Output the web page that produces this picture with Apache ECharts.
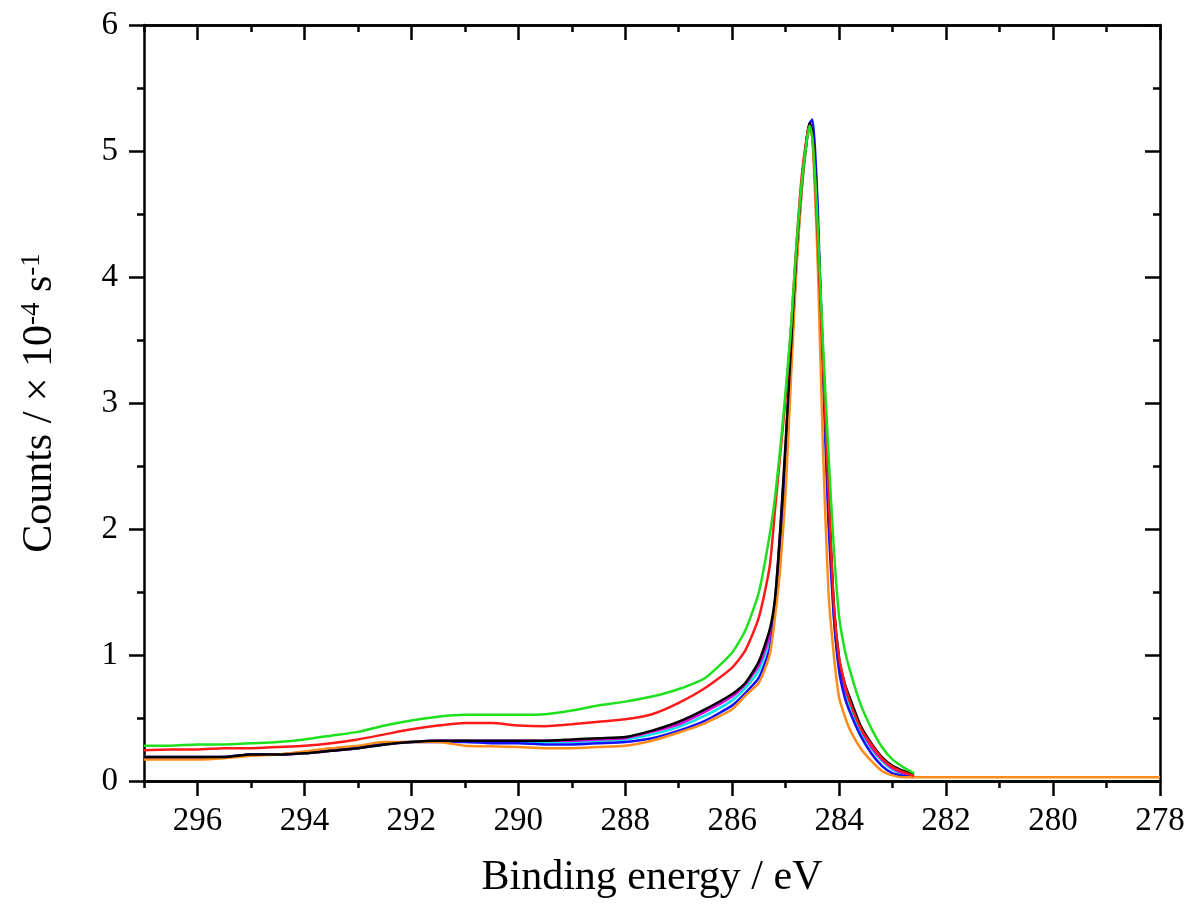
<!DOCTYPE html>
<html>
<head>
<meta charset="utf-8">
<script src="https://cdn.jsdelivr.net/npm/echarts@6/dist/echarts.min.js"></script>
<style>
html,body{margin:0;padding:0;background:#fff;}
#chart{width:1191px;height:904px;}
</style>
</head>
<body>
<div id="chart"></div>
<script>
// Binding energies (eV)
const energy = [297, 296.5, 296, 295.5, 295, 294.5, 294, 293.5, 293, 292.5, 292, 291.5, 291, 290.5, 290, 289.5, 289, 288.5, 288, 287.5, 287, 286.5, 286, 285.75, 285.5, 285.3, 285.2, 285.1, 285.0, 284.9, 284.8, 284.7, 284.6, 284.55, 284.5, 284.45, 284.4, 284.3, 284.2, 284.1, 284.0, 283.9, 283.8, 283.6, 283.4, 283.2, 283.0, 282.8, 282.6];

const green   = [0.28, 0.28, 0.29, 0.29, 0.30, 0.31, 0.33, 0.36, 0.39, 0.44, 0.48, 0.51, 0.525, 0.525, 0.525, 0.53, 0.56, 0.60, 0.63, 0.67, 0.73, 0.82, 1.02, 1.2, 1.5, 1.95, 2.25, 2.65, 3.1, 3.6, 4.25, 4.75, 5.1, 5.2, 5.1, 4.8, 4.4, 3.45, 2.6, 1.85, 1.3, 1.05, 0.88, 0.61, 0.42, 0.27, 0.17, 0.11, 0.06];
const red     = [0.245, 0.25, 0.25, 0.26, 0.26, 0.27, 0.28, 0.30, 0.33, 0.37, 0.41, 0.44, 0.46, 0.46, 0.44, 0.435, 0.45, 0.47, 0.49, 0.53, 0.62, 0.74, 0.90, 1.04, 1.3, 1.7, 2.15, 2.6, 3.05, 3.6, 4.25, 4.8, 5.12, 5.2, 5.1, 4.75, 4.3, 3.3, 2.3, 1.4, 0.97, 0.78, 0.63, 0.42, 0.29, 0.18, 0.11, 0.07, 0.04];
const black   = [0.19, 0.19, 0.19, 0.19, 0.21, 0.21, 0.22, 0.24, 0.26, 0.29, 0.31, 0.32, 0.32, 0.32, 0.32, 0.32, 0.33, 0.34, 0.35, 0.40, 0.47, 0.57, 0.69, 0.78, 0.95, 1.2, 1.45, 2.0, 2.7, 3.45, 4.2, 4.75, 5.12, 5.22, 5.15, 4.85, 4.4, 3.35, 2.3, 1.4, 0.97, 0.78, 0.66, 0.44, 0.30, 0.19, 0.12, 0.08, 0.05];
const cyan    = [0.19, 0.19, 0.19, 0.19, 0.21, 0.21, 0.22, 0.24, 0.26, 0.29, 0.31, 0.32, 0.32, 0.31, 0.31, 0.31, 0.31, 0.32, 0.33, 0.37, 0.43, 0.52, 0.64, 0.74, 0.88, 1.12, 1.4, 1.95, 2.6, 3.4, 4.15, 4.72, 5.1, 5.2, 5.15, 4.85, 4.4, 3.25, 2.2, 1.32, 0.9, 0.72, 0.6, 0.4, 0.26, 0.16, 0.09, 0.05, 0.04];
const magenta = [0.19, 0.19, 0.19, 0.19, 0.21, 0.21, 0.22, 0.24, 0.26, 0.29, 0.31, 0.32, 0.32, 0.32, 0.32, 0.32, 0.32, 0.33, 0.34, 0.39, 0.45, 0.55, 0.67, 0.77, 0.92, 1.15, 1.42, 2.0, 2.65, 3.45, 4.2, 4.75, 5.12, 5.22, 5.15, 4.85, 4.4, 3.3, 2.25, 1.35, 0.92, 0.74, 0.63, 0.42, 0.27, 0.17, 0.1, 0.06, 0.04];
const blue    = [0.18, 0.18, 0.18, 0.19, 0.21, 0.21, 0.23, 0.25, 0.27, 0.30, 0.31, 0.31, 0.31, 0.30, 0.30, 0.29, 0.29, 0.30, 0.31, 0.34, 0.40, 0.48, 0.60, 0.70, 0.82, 1.05, 1.35, 1.85, 2.5, 3.3, 4.1, 4.7, 5.1, 5.22, 5.25, 5.0, 4.55, 3.2, 2.05, 1.3, 0.87, 0.67, 0.55, 0.36, 0.22, 0.12, 0.06, 0.04, 0.03];
const orange  = [0.17, 0.17, 0.17, 0.18, 0.20, 0.21, 0.235, 0.26, 0.28, 0.31, 0.31, 0.31, 0.28, 0.275, 0.27, 0.26, 0.26, 0.27, 0.28, 0.32, 0.385, 0.46, 0.57, 0.68, 0.78, 1.0, 1.3, 1.7, 2.3, 3.2, 4.05, 4.7, 5.1, 5.2, 5.1, 4.65, 4.1, 2.6, 1.5, 1.0, 0.66, 0.52, 0.41, 0.26, 0.16, 0.08, 0.045, 0.03, 0.03];
// orange flat tail towards low binding energy
const orangeTailEnergy = [282, 281, 280, 279, 278];
const orangeTail       = [0.03, 0.03, 0.03, 0.03, 0.03];

const xMajorTicks = [278, 280, 282, 284, 286, 288, 290, 292, 294, 296];
const xMinorTicks = [279, 281, 283, 285, 287, 289, 291, 293, 295, 297];

const pair = (xs, ys) => xs.map((x, i) => [x, ys[i]]);

const FONT = '"Liberation Serif", "Times New Roman", serif';
const AX = {color: '#000', width: 2.5};

const chart = echarts.init(document.getElementById('chart'), null, {renderer: 'canvas'});

function xAx(pos, inside, len, ticks, labels) {
  return {
    type: 'value', inverse: true, min: 278, max: 297, position: pos,
    axisLine: {show: true, onZero: false, lineStyle: AX},
    axisTick: {show: true, inside: inside, length: len, customValues: ticks, lineStyle: {color: '#000', width: 2.5}},
    axisLabel: labels ? {show: true, customValues: ticks, fontFamily: FONT, fontSize: 33, color: '#000', margin: 24} : {show: false},
    splitLine: {show: false}
  };
}

const option = {
  animation: false,
  backgroundColor: '#fff',
  grid: {left: 144, right: 31, top: 25, bottom: 121, containLabel: false},
  xAxis: [
    Object.assign(xAx('bottom', false, 15, xMajorTicks, true), {
      name: 'Binding energy / eV', nameLocation: 'middle', nameGap: 76,
      nameTextStyle: {fontFamily: FONT, fontSize: 42, color: '#000'}
    }),
    xAx('bottom', false, 7, xMinorTicks, false),
    xAx('top', true, 15, xMajorTicks, false),
    xAx('top', true, 7, xMinorTicks, false)
  ],
  yAxis: [
    {
      type: 'value', min: 0, max: 6, interval: 1, position: 'left',
      axisLine: {show: true, onZero: false, lineStyle: AX},
      axisTick: {show: true, inside: false, length: 15, lineStyle: {color: '#000', width: 2.5}},
      minorTick: {show: true, splitNumber: 2, length: 7, lineStyle: {color: '#000', width: 2.5}},
      axisLabel: {fontFamily: FONT, fontSize: 33, color: '#000', margin: 26},
      splitLine: {show: false},
      name: 'Counts / × 10{sup|-4} s{sup|-1}', nameLocation: 'middle', nameGap: 82, nameRotate: 90,
      nameTextStyle: {
        fontFamily: FONT, fontSize: 42, color: '#000',
        rich: {sup: {fontFamily: FONT, fontSize: 27, color: '#000', padding: [0, 0, 17, 0]}}
      }
    },
    {
      type: 'value', min: 0, max: 6, interval: 1, position: 'right',
      axisLine: {show: true, onZero: false, lineStyle: AX},
      axisTick: {show: true, inside: true, length: 15, lineStyle: {color: '#000', width: 2.5}},
      minorTick: {show: true, splitNumber: 2, length: 7, lineStyle: {color: '#000', width: 2.5}},
      axisLabel: {show: false},
      splitLine: {show: false}
    }
  ],
  series: [
    {name: 'cyan', data: pair(energy, cyan), color: '#00e5e5'},
    {name: 'magenta', data: pair(energy, magenta), color: '#e000e0'},
    {name: 'blue', data: pair(energy, blue), color: '#1010ff'},
    {name: 'orange', data: pair(energy, orange).concat(pair(orangeTailEnergy, orangeTail)), color: '#ff8c1a'},
    {name: 'black', data: pair(energy, black), color: '#000000'},
    {name: 'red', data: pair(energy, red), color: '#ff1a1a'},
    {name: 'green', data: pair(energy, green), color: '#1ee01e'}
  ].map(s => Object.assign({
    type: 'line', xAxisIndex: 0, yAxisIndex: 0, showSymbol: false, symbol: 'none',
    smooth: 0.2, lineStyle: {width: 2.5, color: s.color}, itemStyle: {color: s.color}, z: 2
  }, s))
};
chart.setOption(option);
</script>
</body>
</html>
